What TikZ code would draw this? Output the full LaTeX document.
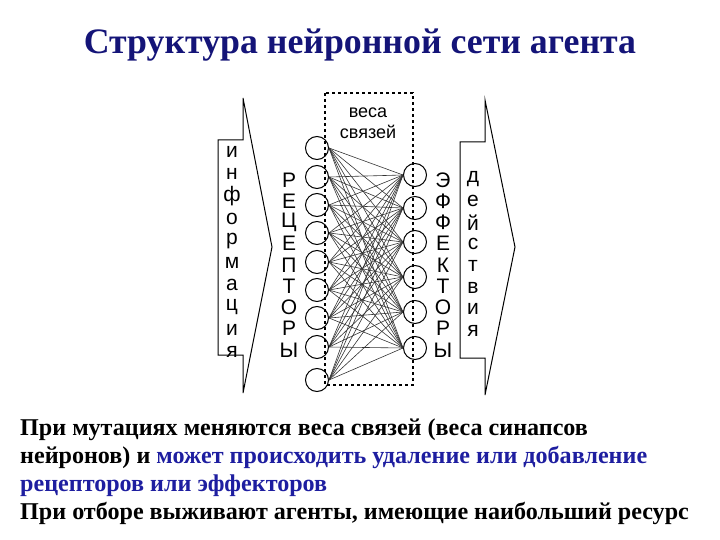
\documentclass[tikz,border=0pt]{standalone}
\usepackage{fontspec}
\setmainfont{Liberation Serif}
\newfontfamily\diagfont{Liberation Sans}
\begin{document}
\begin{tikzpicture}[x=1pt,y=-1pt,
  neuron/.style={draw,circle,minimum size=23pt,inner sep=0pt,line width=1pt},
  lbl/.style={font=\diagfont\fontsize{21}{21}\selectfont,inner sep=0pt},
  big/.style={line width=1pt,line join=miter}]
\useasboundingbox (0,0) rectangle (720,540);
\definecolor{tblue}{RGB}{20,20,120}
\definecolor{bblue}{RGB}{30,30,160}
\node[font=\bfseries\fontsize{35.8}{35.8}\selectfont,text=tblue] (title) at (360,45) {Структура нейронной сети агента};
% arrows
\draw[big] (218,140) -- (243,140) -- (243,98) -- (272,247) -- (243,393) -- (243,355) -- (218,355) -- cycle;
\draw[big] (460,142) -- (485,142) -- (485,100) -- (515,247) -- (485,395) -- (485,358) -- (460,358) -- cycle;
% dashed box
\draw[dashed,line width=1.2pt] (325,93) rectangle (413,385);
\node[lbl,align=center,font=\diagfont\fontsize{18}{18}\selectfont] (w) at (368,123) {веса\\[3pt]связей};
% neurons
\foreach \i/\y in {1/148,2/177,3/205,4/233,5/262,6/290,7/318,8/347,9/380}
  \node[neuron] (r\i) at (317,\y) {};
\foreach \j/\y in {1/175,2/208,3/242,4/277,5/312,6/348}
  \node[neuron] (e\j) at (415,\y) {};
\foreach \i in {1,...,9}{\foreach \j in {1,...,6}{
  \draw[line width=0.6pt,black!80] (r\i.east) -- (e\j.west);}}
% labels
\foreach \c [count=\k] in {Р,Е,Ц,Е,П,Т,О,Р,Ы}
  \node[lbl] (rl\k) at (289,{180+(\k-1)*21.25}) {\c};
\foreach \c [count=\k] in {Э,Ф,Ф,Е,К,Т,О,Р,Ы}
  \node[lbl] (el\k) at (443,{180+(\k-1)*21.25}) {\c};
\foreach \c [count=\k] in {и,н,ф,о,р,м,а,ц,и,я}
  \node[lbl] (il\k) at (232,{152+(\k-1)*22.2}) {\c};
\foreach \c [count=\k] in {д,е,й,с,т,в,и,я}
  \node[lbl] (al\k) at (473,{179+(\k-1)*21.7}) {\c};
\node[anchor=north west,align=left,font=\bfseries\fontsize{24.1}{28}\selectfont,inner sep=0pt] (txt) at (20,419)
 {При мутациях меняются веса связей (веса синапсов\\
  нейронов) и \textcolor{bblue}{может происходить удаление или добавление}\\
  \textcolor{bblue}{рецепторов или эффекторов}\\
  При отборе выживают агенты, имеющие наибольший ресурс};
\end{tikzpicture}
\end{document}
